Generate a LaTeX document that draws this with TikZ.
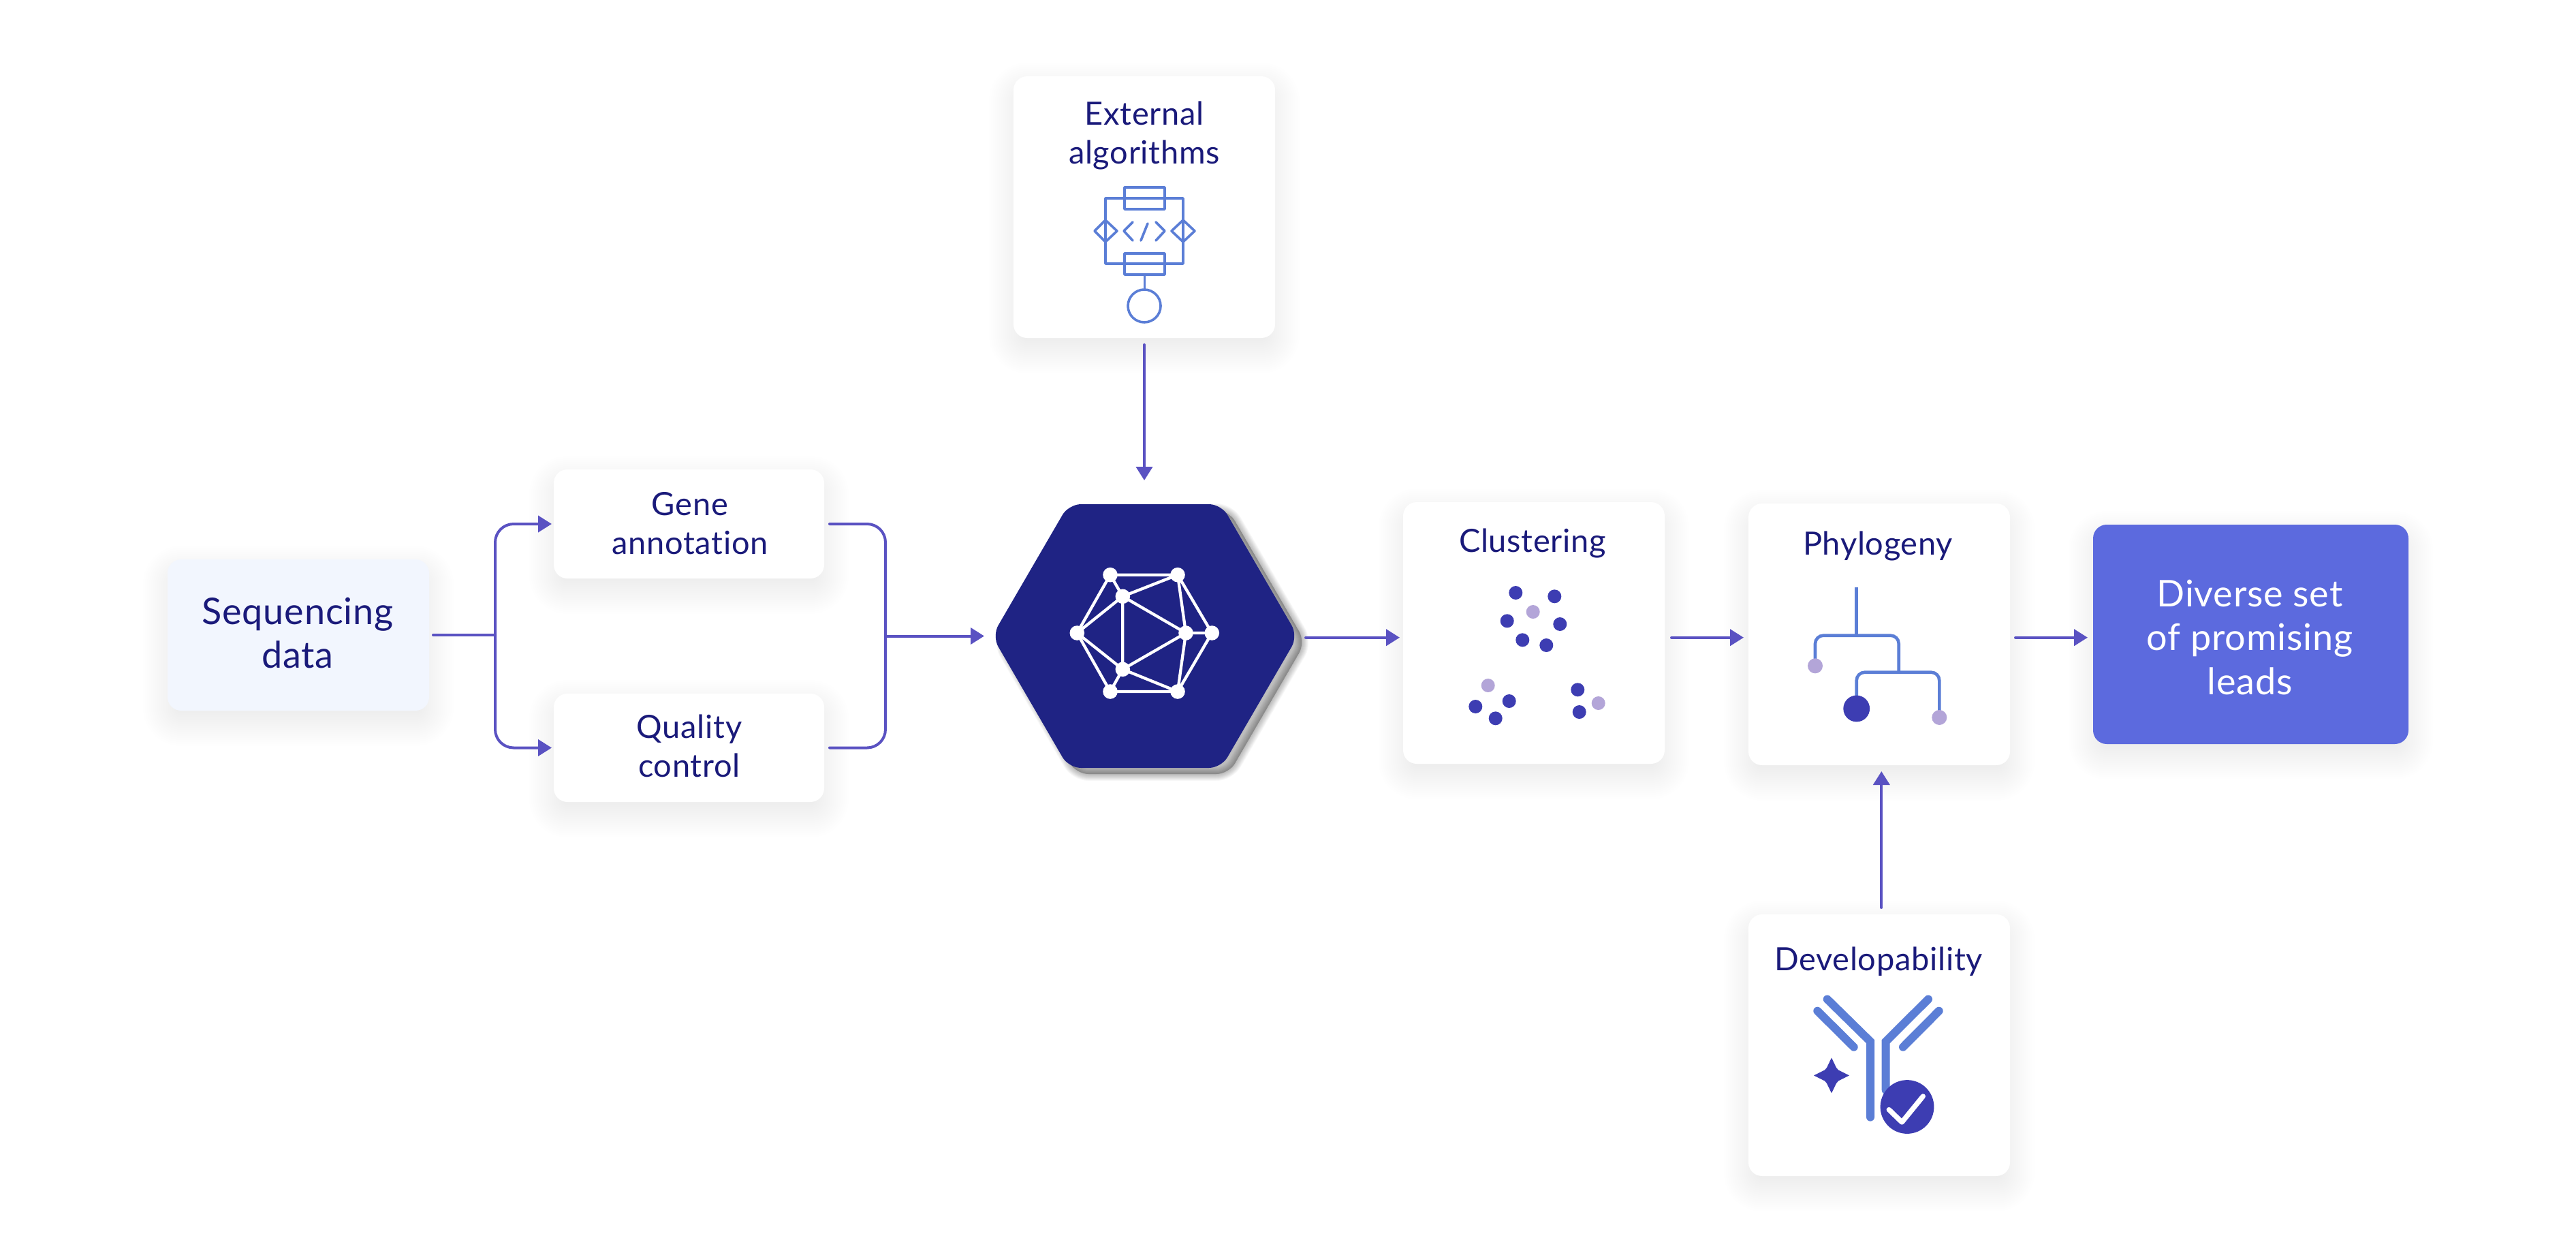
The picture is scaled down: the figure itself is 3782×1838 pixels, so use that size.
\documentclass[tikz,border=0pt]{standalone}
\usepackage{fontspec}
\setmainfont{Lato}[Ligatures=NoCommon,LetterSpace=1.5]
\usetikzlibrary{arrows.meta,calc}
\definecolor{flowc}{HTML}{5A52C2}
\definecolor{iconc}{HTML}{5B7ED6}
\definecolor{textc}{HTML}{1A1A7A}
\definecolor{hexc}{HTML}{1F2384}
\definecolor{dotc}{HTML}{3D3DB2}
\definecolor{lightc}{HTML}{B3A5D8}
\definecolor{leadc}{HTML}{5C6ADE}
\definecolor{seqc}{HTML}{F2F6FE}
\tikzset{
  cardbox/.style={rectangle,rounded corners=10pt,fill=white,inner sep=0pt,outer sep=0pt},
  lab/.style={text=textc,align=center,inner sep=0pt,font=\fontsize{23.5}{28.5}\selectfont},
  biglab/.style={text=textc,align=center,inner sep=0pt,font=\fontsize{27}{32.3}\selectfont},
  flowline/.style={draw=flowc,line width=2pt,line cap=round},
  flow/.style={flowline,-{Triangle[length=10pt,width=12pt]}},
  icon/.style={draw=iconc,line width=1.8pt,line join=round,line cap=round},
  tree/.style={draw=iconc,line width=2.3pt,rounded corners=6pt},
  ab/.style={draw=iconc,line width=6pt,line cap=round,line join=miter},
  darkdot/.style={fill=dotc},
  lightdot/.style={fill=lightc}
}
% soft drop shadow of a card: centre x, centre y, half width, half height (px)
\newcommand{\softshadow}[4]{%
  \foreach \e in {-36,-33,...,36}{%
    \pgfmathsetmacro{\rr}{max(1,(20+\e)/2)}%
    \fill[black,opacity=0.005,rounded corners=\rr pt]
      ({#1-#3-\e},{#2-#4-\e+16}) rectangle ({#1+#3+\e},{#2+#4+\e+16});
  }%
}
\begin{document}
\begin{tikzpicture}[x=0.5pt,y=-0.5pt]
\useasboundingbox (0,0) rectangle (3782,1838);
\fill[white] (0,0) rectangle (3782,1838);

% shadows
\softshadow{438}{932}{192}{111}
\softshadow{1011.5}{769}{198.5}{80}
\softshadow{1011.5}{1097.5}{198.5}{79.5}
\softshadow{1680}{304}{192}{192}
\softshadow{2252}{929}{192}{192}
\softshadow{2759}{931}{192}{192}
\softshadow{2759}{1534}{192}{192}
\softshadow{3304.5}{931}{231.5}{161}
\foreach \w in {1,2,...,10}{
  \filldraw[black,opacity=0.028,line width=\w pt,line join=round,shift={(11,9)},rounded corners=9pt]
    (1569,740) -- (1793,740) -- (1905.5,933.5) -- (1793,1127) -- (1569,1127) -- (1456.5,933.5) -- cycle;
}

% cards
\node[cardbox,fill=seqc,minimum width=192pt,minimum height=111pt] (seq) at (438,932) {};
\node[cardbox,minimum width=198.5pt,minimum height=80pt] (gene) at (1011.5,769) {};
\node[cardbox,minimum width=198.5pt,minimum height=79.5pt] (qc) at (1011.5,1097.5) {};
\node[cardbox,minimum width=192pt,minimum height=192pt] (ext) at (1680,304) {};
\node[cardbox,minimum width=192pt,minimum height=192pt] (clust) at (2252,929) {};
\node[cardbox,minimum width=192pt,minimum height=192pt] (phyl) at (2759,931) {};
\node[cardbox,minimum width=192pt,minimum height=192pt] (dev) at (2759,1534) {};
\node[cardbox,fill=leadc,minimum width=231.5pt,minimum height=161pt] (leads) at (3304.5,931) {};

% hexagon
\node[inner sep=0pt,outer sep=0pt,minimum width=221pt,minimum height=193.5pt] (hex) at (1681,933.5) {};
\fill[hexc,rounded corners=9pt]
  (1569,740) -- (1793,740) -- (1905.5,933.5) -- (1793,1127) -- (1569,1127) -- (1456.5,933.5) -- cycle;
% hexagon network icon
\begin{scope}[draw=white,line width=2.15pt]
\coordinate (A) at (1630,843.7);
\coordinate (B) at (1729,843.7);
\coordinate (C) at (1648.3,875.3);
\coordinate (D) at (1581.3,929);
\coordinate (E) at (1741,929);
\coordinate (F) at (1779.3,929);
\coordinate (G) at (1648.3,982.3);
\coordinate (H) at (1630,1015);
\coordinate (I) at (1729,1015);
\draw (A)--(B) (A)--(C) (A)--(D) (C)--(B) (C)--(D) (C)--(E) (C)--(G) (D)--(G) (D)--(H)
      (G)--(E) (G)--(H) (G)--(I) (H)--(I) (B)--(E) (B)--(F) (E)--(F) (E)--(I) (F)--(I);
\foreach \p in {A,B,C,D,E,F,G,H,I}{\fill[white] (\p) circle (5.4pt);}
\end{scope}

% labels (the base of a multi-line node is its last line)
\node[biglab,anchor=base] (seqlab) at (437,980.7) {Sequencing\\data};
\node[lab,anchor=base] (genelab) at (1013,813) {Gene\\annotation};
\node[lab,anchor=base] (qclab) at (1012,1140) {Quality\\control};
\node[lab,anchor=base] (extlab) at (1680,240) {External\\algorithms};
\node[lab,anchor=base] (clustlab) at (2250,810) {Clustering};
\node[lab,anchor=base] (phyllab) at (2757,814) {Phylogeny};
\node[lab,anchor=base] (devlab) at (2758,1424.5) {Developability};
\node[biglab,anchor=base,text=white] (leadlab) at (3303,1019.3) {Diverse set\\of promising\\leads};

% external algorithms icon
\draw[icon] (1623,291) rectangle (1737,387);
\draw[icon] (1651,275) rectangle (1710,307);
\draw[icon] (1651,372) rectangle (1710,403);
\draw[icon] (1607,339) -- (1623,323) -- (1640,339) -- (1623,355) -- cycle;
\draw[icon] (1720,339) -- (1737,323) -- (1754,339) -- (1737,355) -- cycle;
\draw[icon] (1663,326) -- (1650,339) -- (1663,353);
\draw[icon] (1685,328) -- (1675,353);
\draw[icon] (1697,326) -- (1710,339) -- (1697,353);
\draw[icon] (1680.5,403) -- (1680.5,425);
\draw[icon] (1680,449) circle (12pt);

% clustering dots
\foreach \x/\y in {2225.3/870,2282.3/875.3,2212.7/911.3,2290.3/916,2235.3/939.3,2270.3/947,2166.3/1037,2215.7/1029,2195.7/1054.3,2316.3/1012.3,2318.7/1045}
  {\fill[darkdot] (\x,\y) circle (5pt);}
\foreach \x/\y in {2250.7/898,2184.7/1006,2346.7/1032}
  {\fill[lightdot] (\x,\y) circle (5pt);}

% phylogeny tree
\draw[tree] (2725.7,861.7) -- (2725.7,932.7);
\draw[tree] (2665,977) -- (2665,932.7) -- (2787.7,932.7) -- (2787.7,986.7);
\draw[tree] (2725.7,1040) -- (2725.7,986.7) -- (2847.3,986.7) -- (2847.3,1053);
\fill[lightdot] (2665,977.3) circle (5.5pt);
\fill[darkdot] (2725.7,1040) circle (9.7pt);
\fill[lightdot] (2847.3,1053) circle (5.5pt);

% antibody icon
\draw[ab] (2682.7,1466.5) -- (2746,1528.6) -- (2746,1639.6);
\draw[ab] (2831,1466.5) -- (2768.7,1528.6) -- (2768.7,1600);
\draw[ab] (2668.3,1483.7) -- (2721.7,1536.7);
\draw[ab] (2846.7,1483.7) -- (2794,1536.7);
\fill[dotc] (2689,1552.4) -- (2696,1567) .. controls (2697,1569) .. (2699,1570.4) -- (2715,1578.4)
  -- (2699,1586.4) .. controls (2697,1587.8) .. (2696,1590) -- (2689,1604.4)
  -- (2682,1590) .. controls (2681,1587.8) .. (2679,1586.4) -- (2663,1578.4)
  -- (2679,1570.4) .. controls (2681,1569) .. (2682,1567) -- cycle;
\fill[dotc] (2800,1624.5) circle (19.7pt);
\draw[white,line width=3.7pt,line cap=round,line join=round] (2773.3,1628.6) -- (2792.3,1647) -- (2823.3,1609);

% connectors
\coordinate (jl) at (727,932);
\coordinate (jr) at (1300,933.5);
\draw[flowline,shorten <=3pt] (seq.east) -- (jl);
\draw[flow,rounded corners=13.5pt,shorten >=1.5pt] (jl) |- (gene.west);
\draw[flow,rounded corners=13.5pt,shorten >=1.5pt] (jl) |- (qc.west);
\draw[flowline,rounded corners=13.5pt,shorten <=4pt] (gene.east) -| (jr);
\draw[flowline,rounded corners=13.5pt,shorten <=4pt] (qc.east) -| (jr);
\draw[flow,shorten >=7.5pt] (jr) -- (hex.west);
\draw[flow,shorten <=5pt,shorten >=17.5pt] (ext.south) -- (ext.south |- hex.north);
\draw[flow,shorten <=7.5pt,shorten >=2.5pt] ([yshift=-1.1pt]hex.east) -- ([yshift=-3.35pt]clust.west);
\draw[flow,shorten <=5pt,shorten >=3.5pt] ([yshift=-3.35pt]clust.east) -- ([yshift=-2.35pt]phyl.west);
\draw[flow,shorten <=4pt,shorten >=4pt] ([yshift=-2.35pt]phyl.east) -- ([yshift=-2.35pt]leads.west);
\draw[flow,shorten <=5pt,shorten >=4.5pt] ([xshift=1.65pt]dev.north) -- ([xshift=1.65pt]phyl.south);
\end{tikzpicture}
\end{document}
